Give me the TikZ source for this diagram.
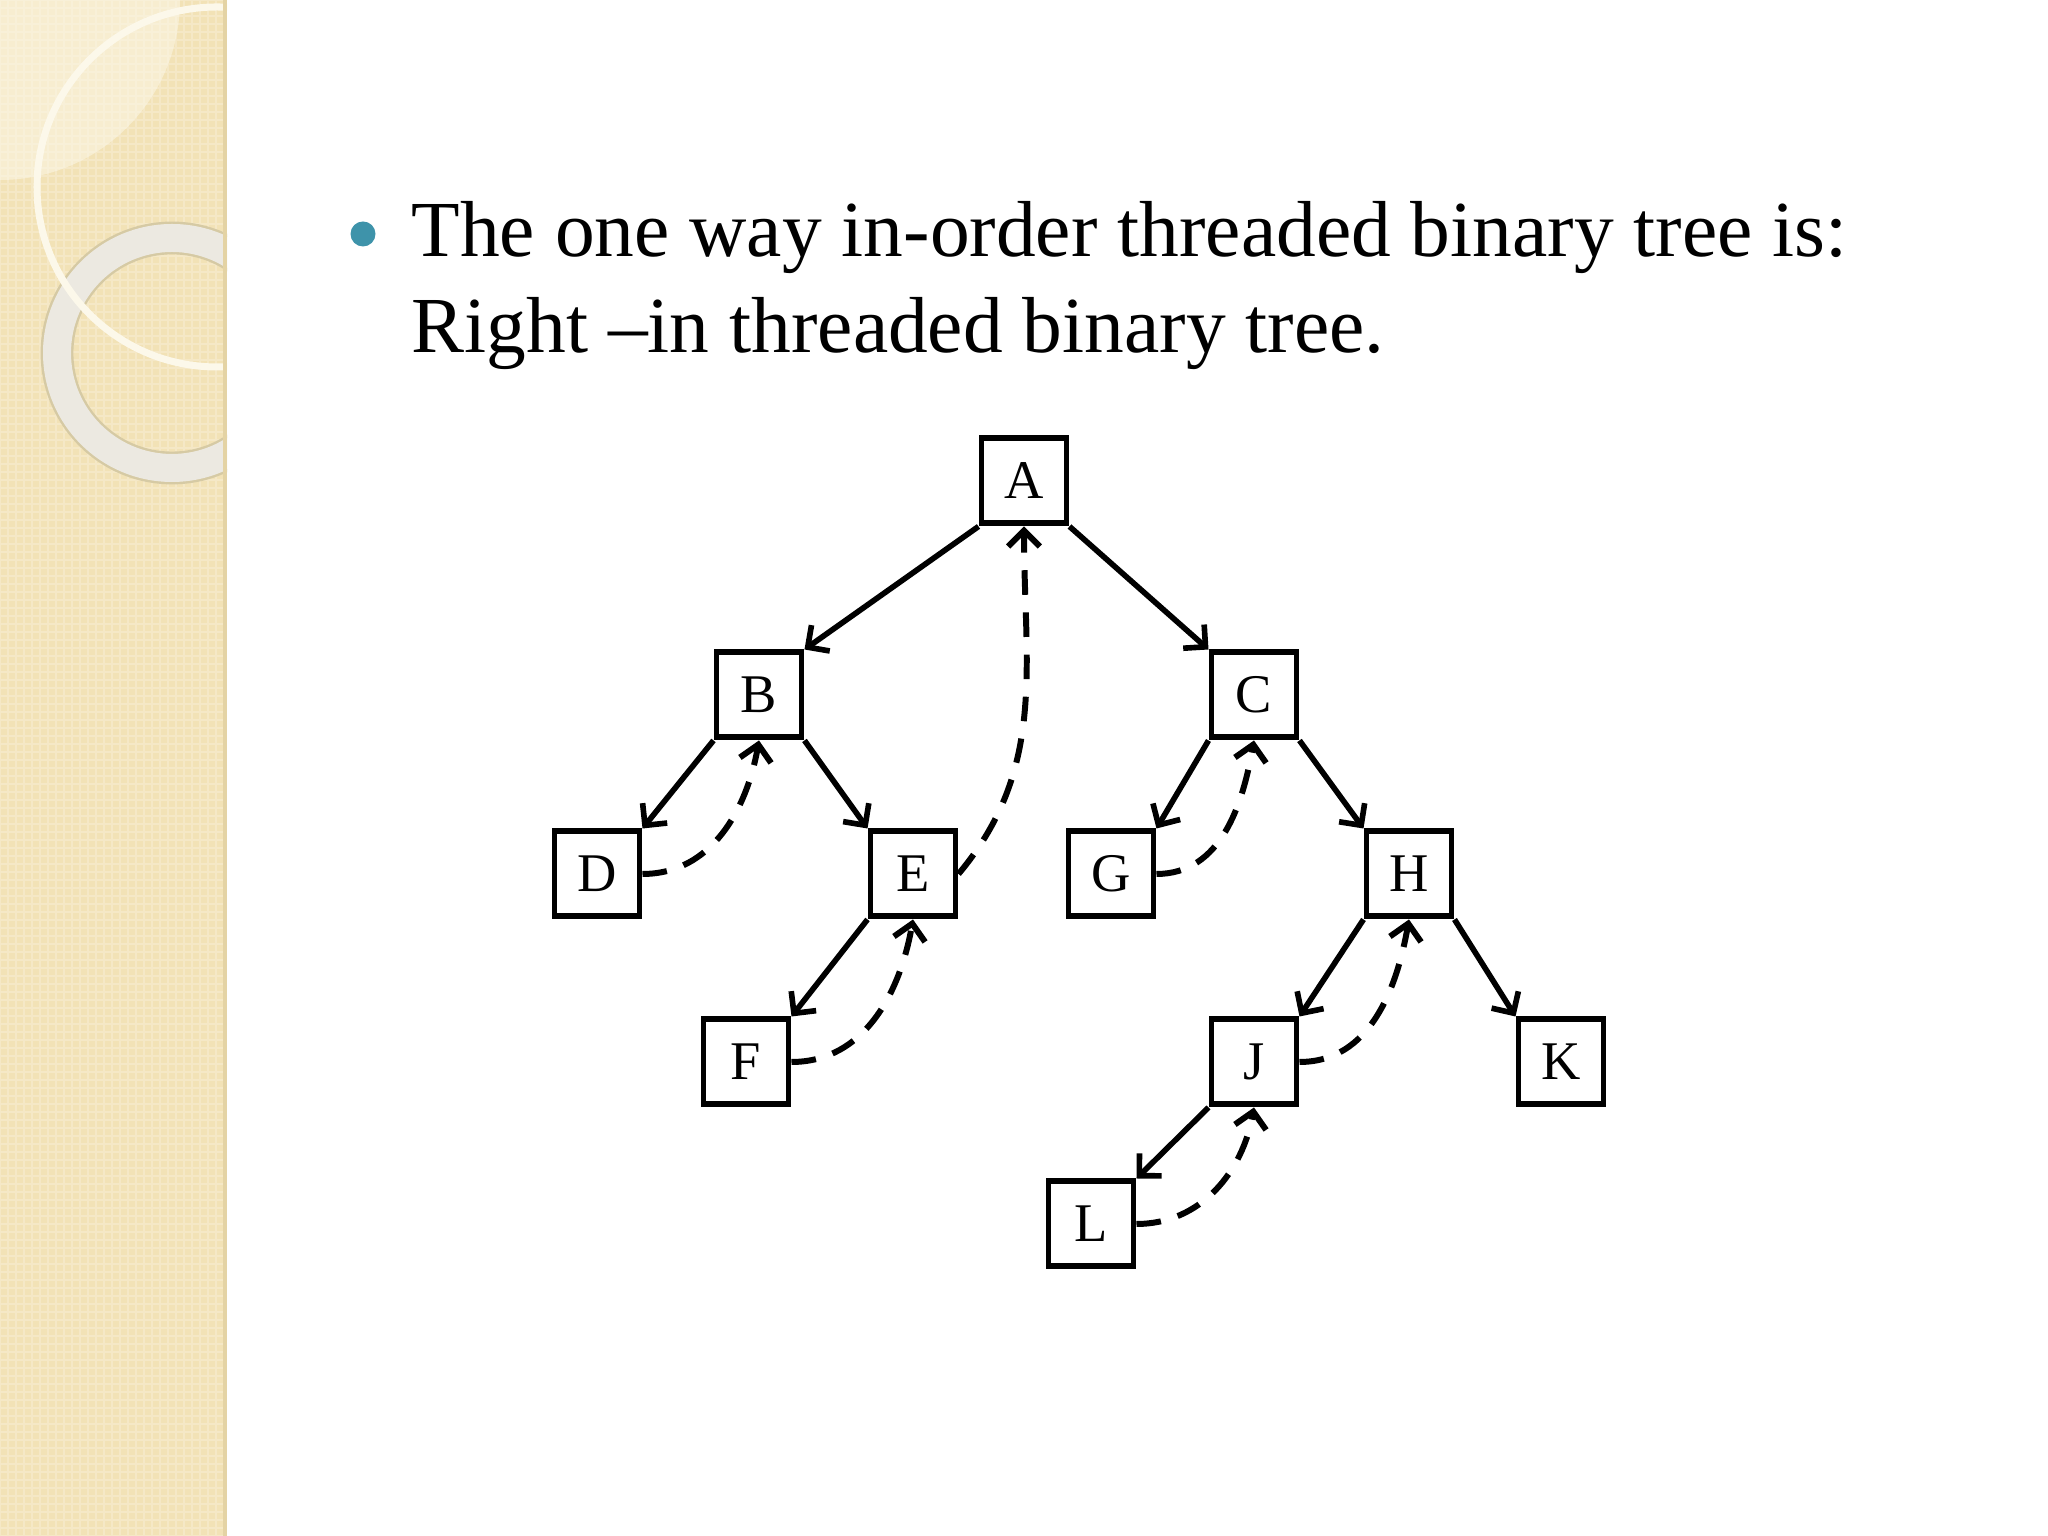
\documentclass[tikz,border=0pt]{standalone}
\usepackage{fontspec}
\setmainfont{Liberation Serif}
\usetikzlibrary{arrows.meta, positioning}
\definecolor{stripbg}{HTML}{F2E2B6}
\definecolor{stripgrid}{HTML}{F5E8C6}
\definecolor{stripedge}{HTML}{E4D3A4}
\definecolor{ringfg}{HTML}{ECE9E1}
\definecolor{ringedge}{HTML}{D6CAA4}
\definecolor{arcfg}{HTML}{FCF8EA}
\definecolor{bulletfg}{HTML}{3E93AA}
\tikzset{
    treenode/.style={rectangle, draw=black, fill=white, line width=1.7pt, minimum size=0.85cm, inner sep=0pt, font=\fontsize{15.5}{18}\selectfont},
    childarrow/.style={-{Straight Barb[length=4.5pt, width=9pt]}, line width=1.6pt},
    threadarrow/.style={-{Straight Barb[length=4.5pt, width=9pt]}, line width=1.7pt, dash pattern=on 7pt off 5pt},
    bodytext/.style={anchor=base west, inner sep=0pt, font=\fontsize{22.6}{27}\selectfont},
}
\begin{document}
\begin{tikzpicture}
\useasboundingbox (0,0) rectangle (20.48,15.36);
\fill[white] (0,0) rectangle (20.48,15.36);
% left strip
\begin{scope}
    \clip (0,0) rectangle (2.27,15.36);
    \fill[stripbg] (0,0) rectangle (2.27,15.36);
    \draw[stripgrid, line width=0.6pt, step=0.08cm] (0,0) grid (2.27,15.36);
    \fill[arcfg, opacity=0.5] (0,15.36) circle (1.80);
    \draw[ringedge, line width=0.8pt] (1.72,11.83) circle (1.30);
    \draw[ringedge, line width=0.8pt] (1.72,11.83) circle (1.00);
    \draw[ringfg, line width=0.28cm] (1.72,11.83) circle (1.15);
    \draw[arcfg, line width=2pt] (2.17,13.49) circle (1.80);
    \draw[stripedge, line width=1.2pt] (2.25,0) -- (2.25,15.36);
\end{scope}
% heading
\fill[bulletfg] (3.63,13.02) circle (0.125);
\node[bodytext] (line1) at (4.11,12.79) {The one way in-order threaded binary tree is:};
\node[bodytext] (line2) at (4.11,11.83) {Right –in threaded binary tree.};
% tree
\node[treenode] (A) at (10.24,10.55) {A};
\node[treenode] (B) at (7.59,8.41) {B};
\node[treenode] (C) at (12.54,8.41) {C};
\node[treenode] (D) at (5.97,6.62) {D};
\node[treenode] (E) at (9.13,6.62) {E};
\node[treenode] (G) at (11.11,6.62) {G};
\node[treenode] (H) at (14.09,6.62) {H};
\node[treenode] (F) at (7.46,4.74) {F};
\node[treenode] (J) at (12.54,4.74) {J};
\node[treenode] (K) at (15.61,4.74) {K};
\node[treenode] (L) at (10.91,3.12) {L};
\draw[childarrow] (A.south west) -- (B.north east);
\draw[childarrow] (A.south east) -- (C.north west);
\draw[childarrow] (B.south west) -- (D.north east);
\draw[childarrow] (B.south east) -- (E.north west);
\draw[childarrow] (E.south west) -- (F.north east);
\draw[childarrow] (C.south west) -- (G.north east);
\draw[childarrow] (C.south east) -- (H.north west);
\draw[childarrow] (H.south west) -- (J.north east);
\draw[childarrow] (H.south east) -- (K.north west);
\draw[childarrow] (J.south west) -- (L.north east);
% threads
\draw[threadarrow] (D.east) to[out=0, in=-100] (B.south);
\draw[threadarrow] (E.east) to[out=50, in=-90] (A.south);
\draw[threadarrow] (F.east) to[out=0, in=-100] (E.south);
\draw[threadarrow] (G.east) to[out=0, in=-100] (C.south);
\draw[threadarrow] (J.east) to[out=0, in=-100] (H.south);
\draw[threadarrow] (L.east) to[out=0, in=-100] (J.south);
\end{tikzpicture}
\end{document}
